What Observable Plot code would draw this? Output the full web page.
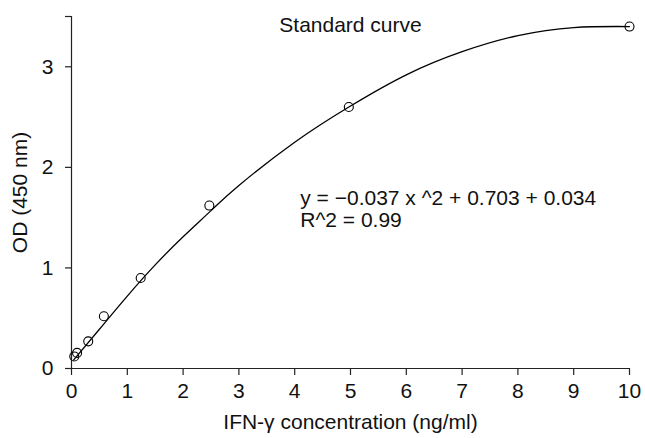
<!DOCTYPE html>
<html>
<head>
<meta charset="utf-8">
<script src="https://cdn.jsdelivr.net/npm/d3@7"></script>
<script src="https://cdn.jsdelivr.net/npm/@observablehq/plot@0.6"></script>
<style>
  html, body { margin: 0; padding: 0; background: #fff; }
</style>
</head>
<body>
<div id="chart"></div>
<script>
// Measured standards (open circles)
const conc = [0.05, 0.1, 0.3, 0.58, 1.24, 2.47, 4.97, 10];
const od = [0.12, 0.155, 0.27, 0.52, 0.90, 1.62, 2.60, 3.40];
// Fitted curve
const fitX = [0.04, 0.5, 1, 1.5, 2, 2.5, 3, 4, 5, 6, 7, 8, 9, 10];
const fitY = [0.085, 0.39, 0.72, 1.03, 1.31, 1.57, 1.82, 2.25, 2.61, 2.92, 3.15, 3.31, 3.39, 3.40];
// Axes
const xTicks = [0, 1, 2, 3, 4, 5, 6, 7, 8, 9, 10];
const yTicks = [0, 1, 2, 3, 3.5];
const xDomain = [0, 10];
const yDomain = [0, 3.5];
const title = "Standard curve";
const eqLines = ["y = \u22120.037 x ^2 + 0.703 + 0.034", "R^2 = 0.99"];
const eqAt = [4.1, 1.70];

const points = conc.map((c, i) => ({x: c, y: od[i]}));
const fit = fitX.map((c, i) => ({x: c, y: fitY[i]}));

const axisColor = "#222";

const chart = Plot.plot({
  width: 645,
  height: 438,
  marginLeft: 71,
  marginRight: 16,
  marginTop: 16,
  marginBottom: 70,
  x: {domain: xDomain},
  y: {domain: yDomain},
  style: {fontFamily: "'Liberation Sans', Arial, sans-serif", fontSize: "21px", color: "#111", background: "#fff"},
  marks: [
    Plot.ruleY([yDomain[0]], {x1: xDomain[0], x2: xDomain[1], stroke: axisColor, strokeWidth: 1.2}),
    Plot.ruleX([xDomain[0]], {y1: yDomain[0], y2: yDomain[1], stroke: axisColor, strokeWidth: 1.2}),
    Plot.axisX({ticks: xTicks, tickSize: 7, tickPadding: 8, stroke: axisColor, strokeWidth: 1.2,
      label: "IFN-\u03b3 concentration (ng/ml)", labelAnchor: "center", labelOffset: 60, labelArrow: "none"}),
    Plot.axisY({ticks: yTicks, tickSize: 6, tickPadding: 12, stroke: axisColor, strokeWidth: 1.2,
      tickFormat: d => Number.isInteger(d) ? String(d) : "",
      label: "OD (450 nm)", labelAnchor: "center", labelOffset: 59, labelArrow: "none"}),
    Plot.line(fit, {x: "x", y: "y", curve: "natural", stroke: "#000", strokeWidth: 1.3}),
    Plot.dot(points, {x: "x", y: "y", r: 4.5, stroke: "#000", strokeWidth: 1.1, fill: "none"}),
    Plot.text([title], {frameAnchor: "top", dy: 9, lineAnchor: "middle", fill: "#111"}),
    Plot.text([eqLines.join("\n")], {x: eqAt[0], y: eqAt[1], textAnchor: "start", lineAnchor: "middle", lineHeight: 1.05, dy: 11, fill: "#111"})
  ]
});
document.getElementById("chart").appendChild(chart);
</script>
</body>
</html>
